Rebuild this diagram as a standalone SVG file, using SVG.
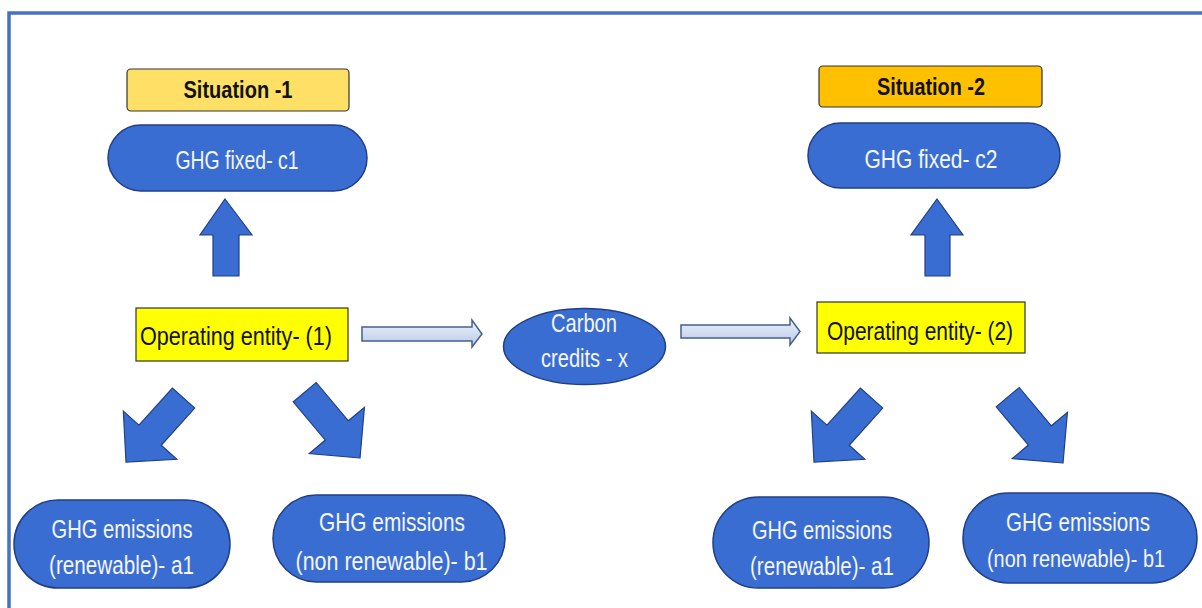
<svg xmlns="http://www.w3.org/2000/svg" width="1202" height="608" viewBox="0 0 1202 608">
<defs>
<linearGradient id="lg" x1="0" y1="0" x2="0" y2="1">
<stop offset="0" stop-color="#eef3fb"/>
<stop offset="1" stop-color="#b7c9e8"/>
</linearGradient>
<path id="dArrow" d="M0,0 L-36,-36 L-15,-36 L-15,-86 L15,-86 L15,-36 L36,-36 Z"/>
</defs>
<style>
.blue{fill:#3a6dd2;stroke:#203f86;stroke-width:1.5}
.arr{fill:#3a6dd2;stroke:#203f86;stroke-width:1.2}
.harr{fill:url(#lg);stroke:#44608f;stroke-width:1.5}
.wt{fill:#f4f6fa;font-family:"Liberation Sans",Arial,sans-serif;text-anchor:middle;dominant-baseline:central}
.bk{fill:#111;font-family:"Liberation Sans",Arial,sans-serif;text-anchor:middle;dominant-baseline:central}
</style>
<rect x="9" y="13" width="1210" height="620" fill="#fff" stroke="#4472c4" stroke-width="3.5"/>

<g id="situation1">
<rect x="127" y="69" width="222" height="42" rx="4" fill="#ffe066" stroke="#333" stroke-width="1.2"/>
<text class="bk" x="238" y="90" font-size="23" font-weight="bold" textLength="109" lengthAdjust="spacingAndGlyphs">Situation -1</text>
</g>
<g id="ghgfixed1">
<rect class="blue" x="108" y="125" width="259" height="66" rx="33"/>
<text class="wt" x="237" y="160" font-size="25" textLength="123" lengthAdjust="spacingAndGlyphs">GHG fixed- c1</text>
</g>
<g id="operating1">
<rect x="136" y="308" width="212" height="53" fill="#ffff00" stroke="#333" stroke-width="1.2"/>
<text class="bk" x="236" y="336" font-size="26" textLength="192" lengthAdjust="spacingAndGlyphs">Operating entity- (1)</text>
</g>
<g id="carbon">
<ellipse class="blue" cx="584.5" cy="346.5" rx="81" ry="38"/>
<text class="wt" x="584" y="323" font-size="25" textLength="66" lengthAdjust="spacingAndGlyphs">Carbon</text>
<text class="wt" x="584.5" y="358" font-size="25" textLength="87" lengthAdjust="spacingAndGlyphs">credits - x</text>
</g>
<g id="situation2">
<rect x="819" y="66" width="223" height="41" rx="4" fill="#ffc000" stroke="#333" stroke-width="1.2"/>
<text class="bk" x="931" y="87" font-size="23" font-weight="bold" textLength="108" lengthAdjust="spacingAndGlyphs">Situation -2</text>
</g>
<g id="ghgfixed2">
<rect class="blue" x="808" y="123" width="252" height="65" rx="32.5"/>
<text class="wt" x="931" y="159" font-size="25" textLength="133" lengthAdjust="spacingAndGlyphs">GHG fixed- c2</text>
</g>
<g id="operating2">
<rect x="817" y="302" width="208" height="51" fill="#ffff00" stroke="#333" stroke-width="1.2"/>
<text class="bk" x="920" y="331" font-size="26" textLength="186" lengthAdjust="spacingAndGlyphs">Operating entity- (2)</text>
</g>
<g id="renew1">
<rect class="blue" x="14" y="500" width="216" height="88" rx="44"/>
<text class="wt" x="122" y="529" font-size="25" textLength="141" lengthAdjust="spacingAndGlyphs">GHG  emissions</text>
<text class="wt" x="121.5" y="565" font-size="25" textLength="145" lengthAdjust="spacingAndGlyphs">(renewable)- a1</text>
</g>
<g id="nonrenew1">
<rect class="blue" x="273" y="495" width="232" height="87" rx="43.5"/>
<text class="wt" x="392" y="522" font-size="25" textLength="146" lengthAdjust="spacingAndGlyphs">GHG  emissions</text>
<text class="wt" x="391.5" y="561" font-size="25" textLength="192" lengthAdjust="spacingAndGlyphs">(non renewable)- b1</text>
</g>
<g id="renew2">
<rect class="blue" x="713" y="497" width="216" height="91" rx="45.5"/>
<text class="wt" x="822" y="530" font-size="25" textLength="140" lengthAdjust="spacingAndGlyphs">GHG  emissions</text>
<text class="wt" x="822" y="566" font-size="25" textLength="144" lengthAdjust="spacingAndGlyphs">(renewable)- a1</text>
</g>
<g id="nonrenew2">
<rect class="blue" x="963" y="493" width="234" height="90" rx="45"/>
<text class="wt" x="1078" y="522" font-size="25" textLength="144" lengthAdjust="spacingAndGlyphs">GHG  emissions</text>
<text class="wt" x="1076" y="559" font-size="23" textLength="178" lengthAdjust="spacingAndGlyphs">(non renewable)- b1</text>
</g>

<g id="connectors">
<polygon class="arr" points="225,199 252,235 239,235 239,276 213,276 213,235 200,235"/>
<polygon class="arr" points="937,199 963,235 950,235 950,276 925,276 925,235 911,235"/>
<polygon class="harr" points="362,327 472,327 472,320 482,334 472,347 472,341 362,341"/>
<polygon class="harr" points="681,325 790,325 790,318 800,331.5 790,345 790,338 681,338"/>
<use href="#dArrow" class="arr" transform="translate(126,462) rotate(42)"/>
<use href="#dArrow" class="arr" transform="translate(360,458) rotate(-40)"/>
<use href="#dArrow" class="arr" transform="translate(814,462) rotate(42)"/>
<use href="#dArrow" class="arr" transform="translate(1063,463) rotate(-40)"/>
</g>
</svg>
